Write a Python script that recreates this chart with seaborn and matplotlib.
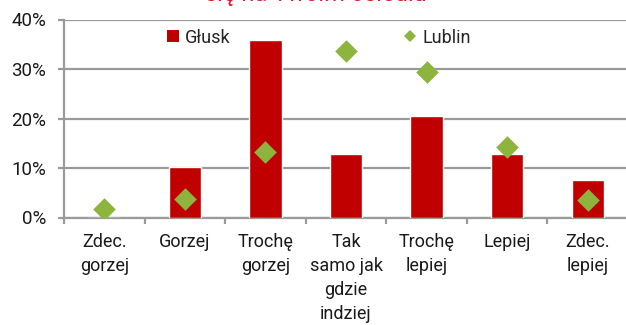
import matplotlib
matplotlib.use("Agg")
import matplotlib.pyplot as plt
from matplotlib import font_manager
from matplotlib.lines import Line2D
from matplotlib.ticker import FixedLocator, FuncFormatter
import seaborn as sns
import numpy as np

categories = ["Zdec.\ngorzej", "Gorzej", "Trochę\ngorzej", "Tak\nsamo jak\ngdzie\nindziej",
              "Trochę\nlepiej", "Lepiej", "Zdec.\nlepiej"]
glusk = [0.0, 10.2, 35.9, 12.8, 20.5, 12.8, 7.5]
lublin = [1.8, 3.8, 13.3, 33.7, 29.4, 14.3, 3.5]
y_ticks = [0, 10, 20, 30, 40]
series_names = ["Głusk", "Lublin"]
title_text = "się na Twoim osiedlu"

RED = "#c00000"
GREEN = "#8db43c"
GRID = "#9a9a9a"

sns.set_theme(style="white")
available = {f.name for f in font_manager.fontManager.ttflist}
family = "Roboto"
for cand in ["Liberation Sans Narrow", "DejaVu Sans Condensed", "Roboto"]:
    if cand in available:
        family = cand
        break
plt.rcParams["font.family"] = [family, "DejaVu Sans"]

W, H = 626, 325
fig = plt.figure(figsize=(W / 100, H / 100), dpi=100)
# plot area runs past the right edge of the canvas
ax = fig.add_axes([64 / W, 1 - 217.5 / H, (628 - 64) / W, (217.5 - 19.5) / H])

x = np.arange(len(categories))
sns.barplot(x=x, y=glusk, color=RED, width=0.4, saturation=1, ax=ax, zorder=3)
sns.stripplot(x=x, y=lublin, color=GREEN, marker="D", size=11.5, jitter=False,
              linewidth=0, ax=ax, zorder=4)

ax.set_xlim(-0.5, len(categories) - 0.5)
ax.set_ylim(0, 40)
ax.yaxis.set_major_locator(FixedLocator(y_ticks))
ax.yaxis.set_major_formatter(FuncFormatter(lambda v, p: f"{v:.0f}%"))
ax.grid(axis="y", color=GRID, linewidth=1.6, zorder=0)
ax.set_axisbelow(True)

ax.set_xticks(x)
ax.set_xticklabels(categories, linespacing=1.42)
ax.set_xticks(np.arange(-0.5, len(categories)), minor=True)
ax.tick_params(axis="x", which="major", length=0, pad=11.5, labelsize=13, colors="#1a1a1a")
ax.tick_params(axis="x", which="minor", length=4, width=1.6, color=GRID, direction="out", bottom=True)
ax.tick_params(axis="y", which="major", length=4, width=1.6, color=GRID, direction="out",
               left=True, pad=9, labelsize=13.5, labelcolor="#1a1a1a")
for lab in ax.get_xticklabels():
    lab.set_verticalalignment("top")

for side in ["top", "right"]:
    ax.spines[side].set_visible(False)
for side in ["left", "bottom"]:
    ax.spines[side].set_color(GRID)
    ax.spines[side].set_linewidth(1.6)

handles = [
    Line2D([], [], marker="s", linestyle="none", markersize=8, color=RED, markeredgewidth=0),
    Line2D([], [], marker="D", linestyle="none", markersize=6, color=GREEN, markeredgewidth=0),
]
ax.legend(handles, series_names, ncol=2, loc="upper left",
          bbox_to_anchor=((158 - 64) / (628 - 64), 1.0),
          frameon=False, fontsize=13, handlelength=0.7, handletextpad=0.3,
          columnspacing=9.6, borderaxespad=0.1)

fig.text(316 / W, 1 - 1.5 / H, title_text, color="#d81e2c", fontsize=17,
         ha="center", va="baseline")

fig.savefig("out.png", dpi=100)
